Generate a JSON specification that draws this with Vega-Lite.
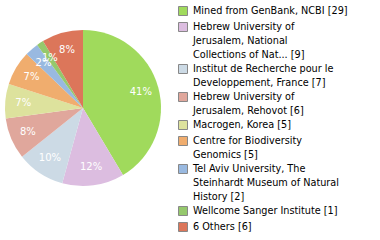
{
  "$schema": "https://vega.github.io/schema/vega-lite/v6.json",
  "width": 166,
  "height": 216,
  "autosize": {"type": "none"},
  "padding": {"left": 0, "top": 0, "right": 214, "bottom": 24},
  "background": "white",
  "config": {"view": {"stroke": null}},
  "data": {
    "values": [
      {"source": "Mined from GenBank, NCBI [29]", "count": 29, "pct": "41%", "k": 1},
      {"source": "Hebrew University of|Jerusalem, National|Collections of Nat... [9]", "count": 9, "pct": "12%", "k": 2},
      {"source": "Institut de Recherche pour le|Developpement, France [7]", "count": 7, "pct": "10%", "k": 3},
      {"source": "Hebrew University of|Jerusalem, Rehovot [6]", "count": 6, "pct": "8%", "k": 4},
      {"source": "Macrogen, Korea [5]", "count": 5, "pct": "7%", "k": 5},
      {"source": "Centre for Biodiversity|Genomics [5]", "count": 5, "pct": "7%", "k": 6},
      {"source": "Tel Aviv University, The|Steinhardt Museum of Natural|History [2]", "count": 2, "pct": "2%", "k": 7},
      {"source": "Wellcome Sanger Institute [1]", "count": 1, "pct": "1%", "k": 8},
      {"source": "6 Others [6]", "count": 6, "pct": "8%", "k": 9}
    ]
  },
  "encoding": {
    "theta": {"field": "count", "type": "quantitative", "stack": true},
    "order": {"field": "k", "type": "quantitative"}
  },
  "layer": [
    {
      "mark": {"type": "arc", "outerRadius": 78},
      "encoding": {
        "color": {
          "field": "source",
          "type": "nominal",
          "sort": {"field": "k"},
          "scale": {
            "range": ["#a0da5c", "#dcbde0", "#ccdae5", "#e0a79c", "#dde29d", "#f0ad6e", "#99b9e0", "#95c86c", "#dc765a"]
          },
          "legend": {
            "title": null,
            "orient": "none",
            "legendX": 178,
            "legendY": 6,
            "symbolType": "square",
            "symbolSize": 81,
            "symbolStrokeColor": "#888888",
            "symbolStrokeWidth": 1,
            "labelFont": "DejaVu Sans",
            "labelFontSize": 9.7,
            "labelColor": "#000000",
            "labelLimit": 300,
            "labelOffset": 5,
            "rowPadding": 2,
            "labelExpr": "split(datum.label, '|')",
            "encode": {"labels": {"update": {"lineHeight": {"value": 14}}}}
          }
        }
      }
    },
    {
      "mark": {"type": "text", "radius": 60, "font": "DejaVu Sans", "fontSize": 10, "color": "white"},
      "encoding": {"text": {"field": "pct"}}
    }
  ]
}
